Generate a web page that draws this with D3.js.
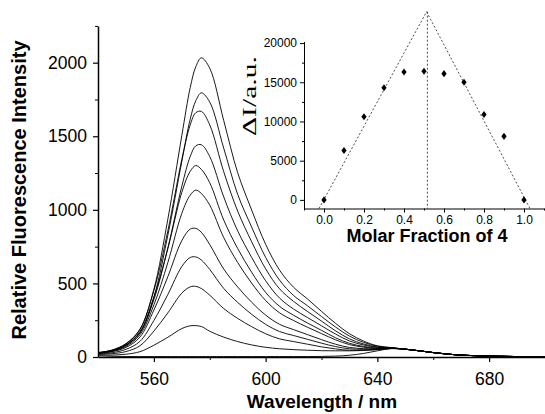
<!DOCTYPE html>
<meta charset="utf-8" />
<script src="https://d3js.org/d3.v7.min.js"></script>
<style>
  body { margin: 0; background: #fff; }
  text { font-family: "Liberation Sans", Arial, sans-serif; }
</style>
<div id="chart"></div>
<script>
  // emission spectra
  const wavelength = [540, 545, 550, 555, 560, 565, 570, 573, 575, 577, 580, 585, 590, 595, 600, 605,
    610, 615, 620, 625, 630, 635, 640, 645, 650, 655, 660, 665, 670, 680, 690, 700];
  const tail = [53, 42, 30, 20, 13, 6, 3, 2]; // 650 .. 700, shared by every curve

  const spectra = [
    [30, 47, 91, 187, 461, 937, 1505, 1830, 1972, 2033, 1962, 1607, 1252, 999, 766, 590, 474, 394, 310, 229, 158, 109, 76, 64, ...tail],
    [28, 42, 81, 165, 407, 828, 1329, 1616, 1741, 1795, 1732, 1419, 1105, 883, 677, 522, 418, 348, 275, 204, 142, 100, 73, 63, ...tail],
    [30, 46, 89, 188, 451, 857, 1342, 1577, 1660, 1669, 1577, 1259, 991, 783, 599, 463, 378, 309, 244, 178, 123, 89, 68, 61, ...tail],
    [27, 41, 78, 163, 390, 741, 1160, 1362, 1435, 1442, 1362, 1088, 857, 677, 518, 400, 326, 268, 212, 156, 109, 82, 65, 61, ...tail],
    [28, 44, 82, 173, 406, 737, 1119, 1262, 1301, 1275, 1184, 931, 737, 576, 439, 344, 284, 231, 181, 131, 93, 72, 60, 61, ...tail],
    [26, 39, 72, 151, 354, 642, 976, 1100, 1134, 1111, 1032, 812, 642, 502, 384, 300, 248, 202, 159, 117, 84, 67, 58, 60, ...tail],
    [24, 36, 65, 135, 319, 546, 791, 869, 874, 847, 764, 598, 476, 372, 285, 222, 186, 152, 118, 87, 65, 57, 55, 59, ...tail],
    [21, 29, 52, 106, 248, 425, 615, 676, 680, 659, 595, 466, 371, 290, 222, 173, 146, 120, 94, 71, 56, 52, 53, 59, ...tail],
    [18, 22, 37, 76, 176, 300, 434, 477, 480, 465, 420, 329, 262, 206, 158, 123, 105, 87, 69, 55, 46, 46, 51, 58, ...tail],
    [13, 13, 19, 36, 80, 134, 193, 212, 213, 207, 175, 135, 105, 82, 66, 56, 50, 46, 43, 42, 42, 44, 50, 58, ...tail],
    [8, 5, 3, 3, 3, 3, 3, 3, 3, 3, 3, 3, 3, 3, 3, 3, 3, 3, 4, 6, 12, 24, 42, 57, ...tail]
  ];

  // inset: Job plot
  const molarFraction = [0, 0.1, 0.2, 0.3, 0.4, 0.5, 0.6, 0.7, 0.8, 0.9, 1.0];
  const deltaI = [0, 6300, 10600, 14300, 16300, 16400, 16100, 15000, 10900, 8100, 0];
  const leftFit = [[-0.025, -1100], [0.513, 24000]];
  const rightFit = [[0.513, 24000], [1.03, -1100]];
  const apexLine = [[0.517, 24000], [0.517, -1100]];

  const width = 545, height = 414;

  const svg = d3.select('#chart').append('svg')
    .attr('width', width)
    .attr('height', height);

  // main scales
  const x = d3.scaleLinear().domain([540, 700]).range([98, 545]);
  const y = d3.scaleLinear().domain([0, 2250]).range([357, 25.9]);

  const line = d3.line()
    .x((d, i) => x(wavelength[i]))
    .y(d => y(d))
    .curve(d3.curveCatmullRom.alpha(0.5));

  svg.append('g')
    .selectAll('path')
    .data(spectra)
    .join('path')
    .attr('d', line)
    .attr('fill', 'none')
    .attr('stroke', '#000')
    .attr('stroke-width', 0.9);

  // main axes
  const xAxis = svg.append('g')
    .attr('transform', 'translate(0,357)')
    .style('font-size', '17.5px')
    .call(d3.axisBottom(x).tickValues([560, 600, 640, 680]).tickFormat(d3.format('d'))
      .tickSize(5).tickPadding(11).tickSizeOuter(0));
  svg.append('g')
    .attr('transform', 'translate(0,357)')
    .call(d3.axisBottom(x).tickValues([580, 620, 660]).tickSize(3).tickFormat(''))
    .select('.domain').remove();

  const yAxis = svg.append('g')
    .attr('transform', 'translate(98,0)')
    .style('font-size', '17.5px')
    .call(d3.axisLeft(y).tickValues([0, 500, 1000, 1500, 2000]).tickFormat(d3.format('d'))
      .tickSize(5).tickPadding(6).tickSizeOuter(0));
  svg.append('g')
    .attr('transform', 'translate(98,0)')
    .call(d3.axisLeft(y).tickValues([250, 750, 1250, 1750, 2250]).tickSize(3).tickFormat(''))
    .select('.domain').remove();

  [xAxis, yAxis].forEach(g => {
    g.select('.domain').attr('stroke-width', 1.5);
    g.selectAll('.tick line').attr('stroke-width', 1.2);
    g.selectAll('text').attr('fill', '#000').style('font-family', '"Liberation Sans", Arial, sans-serif');
  });

  svg.append('text')
    .attr('transform', 'translate(26,190) rotate(-90)')
    .attr('text-anchor', 'middle')
    .style('font-size', '20px')
    .style('font-weight', 'bold')
    .text('Relative Fluorescence Intensity');

  svg.append('text')
    .attr('x', 322)
    .attr('y', 408)
    .attr('text-anchor', 'middle')
    .style('font-size', '19px')
    .style('font-weight', 'bold')
    .text('Wavelength / nm');

  // inset
  const xi = d3.scaleLinear().domain([-0.1, 1.1]).range([304, 544]);
  const yi = d3.scaleLinear().domain([-1100, 20200]).range([208.5, 41.5]);

  const fitLine = d3.line().x(d => xi(d[0])).y(d => yi(d[1]));
  svg.append('g')
    .selectAll('path')
    .data([leftFit, rightFit, apexLine])
    .join('path')
    .attr('d', fitLine)
    .attr('fill', 'none')
    .attr('stroke', '#222')
    .attr('stroke-width', 0.8)
    .attr('stroke-dasharray', '2,2');

  svg.append('g')
    .selectAll('path')
    .data(molarFraction)
    .join('path')
    .attr('transform', (d, i) => `translate(${xi(d)},${yi(deltaI[i])}) scale(1.1,0.85)`)
    .attr('d', d3.symbol().type(d3.symbolDiamond).size(20))
    .attr('fill', '#000');

  const xiAxis = svg.append('g')
    .attr('transform', 'translate(0,208.5)')
    .style('font-size', '12px')
    .call(d3.axisBottom(xi).tickValues([0, 0.2, 0.4, 0.6, 0.8, 1.0]).tickFormat(d3.format('.1f'))
      .tickSize(4).tickPadding(3).tickSizeOuter(0));
  svg.append('g')
    .attr('transform', 'translate(0,208.5)')
    .call(d3.axisBottom(xi).tickValues([-0.1, 0.1, 0.3, 0.5, 0.7, 0.9, 1.1]).tickSize(2).tickFormat(''))
    .select('.domain').remove();

  const yiAxis = svg.append('g')
    .attr('transform', 'translate(304,0)')
    .style('font-size', '12px')
    .call(d3.axisLeft(yi).tickValues([0, 5000, 10000, 15000, 20000]).tickFormat(d3.format('d'))
      .tickSize(4).tickPadding(3).tickSizeOuter(0));
  svg.append('g')
    .attr('transform', 'translate(304,0)')
    .call(d3.axisLeft(yi).tickValues([2500, 7500, 12500, 17500]).tickSize(2).tickFormat(''))
    .select('.domain').remove();

  [xiAxis, yiAxis].forEach(g => {
    g.selectAll('text').attr('fill', '#000').style('font-family', '"Liberation Sans", Arial, sans-serif');
  });

  svg.append('text')
    .attr('transform', 'translate(256,96) rotate(-90)')
    .attr('text-anchor', 'middle')
    .attr('textLength', 80)
    .attr('lengthAdjust', 'spacingAndGlyphs')
    .style('font-family', '"Liberation Serif", "Times New Roman", serif')
    .style('font-size', '19px')
    .text('ΔI/a.u.');

  svg.append('text')
    .attr('x', 427)
    .attr('y', 241.5)
    .attr('text-anchor', 'middle')
    .style('font-size', '18px')
    .style('font-weight', 'bold')
    .text('Molar Fraction of 4');
</script>
